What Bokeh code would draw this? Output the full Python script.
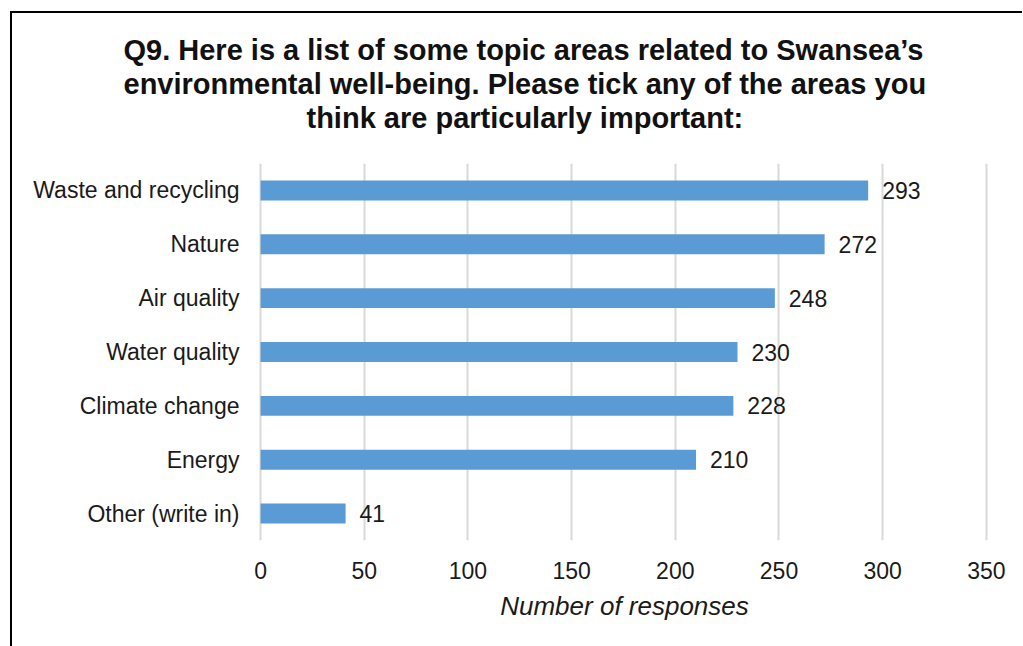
from bokeh.plotting import figure
from bokeh.models import Range1d, FactorRange, ColumnDataSource, Title, LabelSet
from bokeh.core.properties import value
from bokeh.embed import file_html
from bokeh.resources import INLINE

categories = ["Waste and recycling", "Nature", "Air quality", "Water quality",
              "Climate change", "Energy", "Other (write in)"]
values = [293, 272, 248, 230, 228, 210, 41]
x_ticks = [0, 50, 100, 150, 200, 250, 300, 350]
title_lines = ["Q9. Here is a list of some topic areas related to Swansea\u2019s",
               "environmental well-being. Please tick any of the areas you",
               "think are particularly important:"]
x_title = "Number of responses"

FONT = "Liberation Sans"

src = ColumnDataSource(dict(cat=categories, val=values,
                            lab=[str(v) for v in values]))

p = figure(width=1012, height=635, output_backend="svg", toolbar_location=None,
           x_range=Range1d(-1, 352),
           y_range=FactorRange(factors=list(reversed(categories))),
           min_border_left=246, min_border_right=34,
           min_border_top=150, min_border_bottom=108)
p.styles = {"margin-left": "10px", "margin-top": "11px",
            "border-left": "2px solid black", "border-top": "2px solid black"}

p.hbar(y="cat", right="val", left=0, height=0.37, source=src,
       fill_color="#5B9BD5", line_color=None)

labels = LabelSet(x="val", y="cat", text="lab", source=src, x_offset=14,
                  text_baseline="middle", text_font=value(FONT),
                  text_font_size="23px", text_color="#1a1a1a")
p.add_layout(labels)

p.outline_line_color = None
p.background_fill_color = "white"
p.border_fill_color = "white"

p.xgrid.ticker = x_ticks
p.xgrid.grid_line_color = "#d9d9d9"
p.xgrid.grid_line_width = 2
p.ygrid.grid_line_color = None

p.xaxis.ticker = x_ticks
p.xaxis.axis_line_color = None
p.xaxis.major_tick_line_color = None
p.xaxis.minor_tick_line_color = None
p.xaxis.major_label_text_font = FONT
p.xaxis.major_label_text_font_size = "23px"
p.xaxis.major_label_text_color = "#1a1a1a"
p.xaxis.major_label_standoff = 15
p.xaxis.axis_label = x_title
p.xaxis.axis_label_text_font = FONT
p.xaxis.axis_label_text_font_size = "26px"
p.xaxis.axis_label_text_font_style = "italic"
p.xaxis.axis_label_text_color = "#1a1a1a"
p.xaxis.axis_label_standoff = 9

p.yaxis.axis_line_color = None
p.yaxis.major_tick_line_color = None
p.yaxis.minor_tick_line_color = None
p.yaxis.major_label_text_font = FONT
p.yaxis.major_label_text_font_size = "23px"
p.yaxis.major_label_text_color = "#1a1a1a"
p.yaxis.major_label_standoff = 13

# spacer between title block and plot frame
p.add_layout(Title(text=" ", standoff=0, text_line_height=1.1,
                   text_font=FONT, text_font_size="25px"), "above")

title_offsets = [-135, -135, 48]
for line, off in reversed(list(zip(title_lines, title_offsets))):
    p.add_layout(Title(text=line, align="left", offset=off, standoff=0,
                       text_line_height=1.1,
                       text_font=FONT, text_font_size="29px",
                       text_font_style="bold", text_color="#111111"), "above")

open("out.html", "w").write(file_html(p, INLINE))
